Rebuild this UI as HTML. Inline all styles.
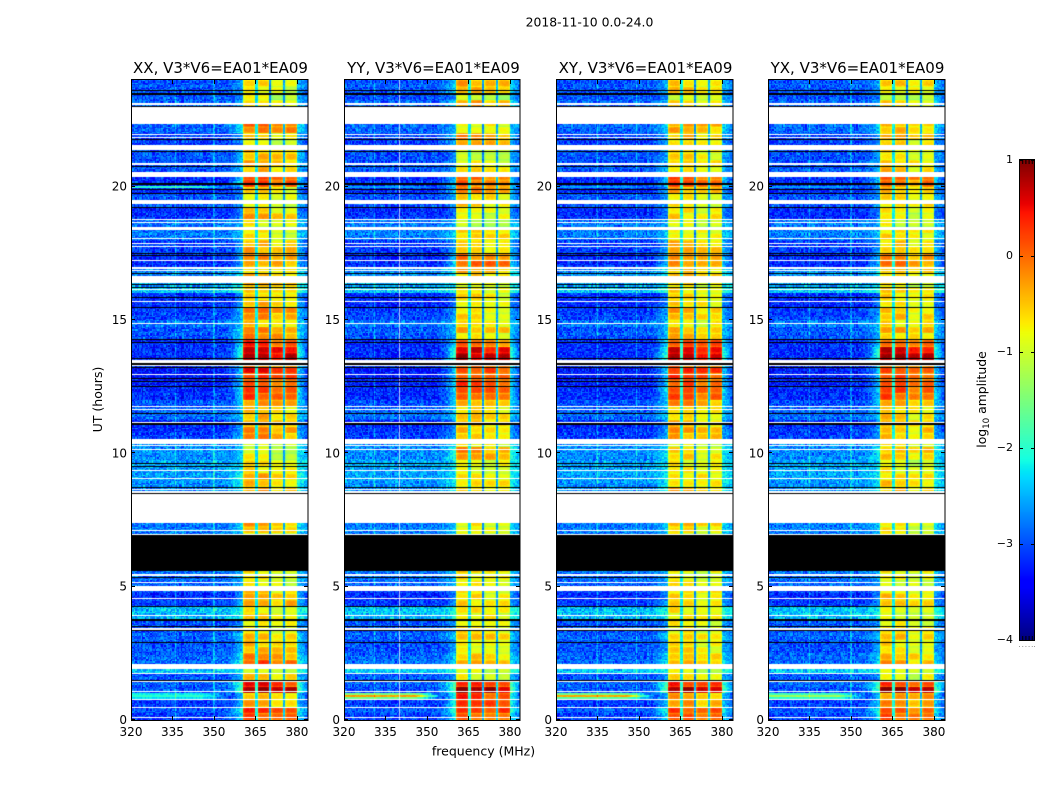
<!DOCTYPE html>
<html lang="en">
<head>
<meta charset="utf-8">
<title>2018-11-10 dynamic spectra</title>
<style>
html,body{margin:0;padding:0;background:#fff;width:1050px;height:800px;overflow:hidden}
#figure{position:relative;width:1050px;height:800px}
canvas{position:absolute;display:block}
svg{position:absolute;left:0;top:0}
text{font-family:"DejaVu Sans","Liberation Sans",sans-serif;fill:#000}
</style>
</head>
<body>
<div id="figure">
<svg id="overlay" width="1050" height="800" viewBox="0 0 1050 800">
  <text x="589.5" y="26.5" font-size="12.4" text-anchor="middle">2018-11-10 0.0-24.0</text>
  <text x="483.5" y="755.5" font-size="12.5" text-anchor="middle">frequency (MHz)</text>
  <text transform="translate(102 399.5) rotate(-90)" font-size="12.5" text-anchor="middle">UT (hours)</text>
  <text transform="translate(986 399.5) rotate(-90)" font-size="12.4" text-anchor="middle">log<tspan font-size="8.7" dy="3">10</tspan><tspan dy="-3"> amplitude</tspan></text>
</svg>
</div>
<script>
// ---- chart data ----
const panelTitles = ["XX, V3*V6=EA01*EA09", "YY, V3*V6=EA01*EA09", "XY, V3*V6=EA01*EA09", "YX, V3*V6=EA01*EA09"];
const freqTicks = [320, 335, 350, 365, 380];
const utTicks = [0, 5, 10, 15, 20];
const colorTicks = [1, 0, -1, -2, -3, -4];
const colorMinorTicks = [0, 1, 2, 3, 4, 5];
const freqRange = [320, 384];
const utRange = [0, 24];
const colorRange = [-4, 1];
const rowHours = 0.25;

// log10 amplitude of the frequency blocks, one value per quarter hour from UT 0
const blockAmpXX = [
 .1,.15,-.35,-.4,.85,.35,-.55,-.9,.1,-.2,-.45,-.5,
 -.35,-.75,-.8,-.7,-.7,-.3,-.4,-.6,-.8,-.7,-.7,-.7,
 -.7,-.7,-.7,-.7,-.6,-.4,-.6,-.6,-.6,-.4,-.4,-.45,
 -.3,-.7,-.8,-.8,-.85,-.9,-.3,-.25,-.3,-.45,-.55,-.3,
 .15,.3,.05,.2,.35,.1,.8,.6,.2,-.15,-.15,-.6,
 -.25,-.2,-.4,-.5,-.5,-.5,-.5,-.55,-.3,-.25,-.4,-.5,
 -.7,-.7,-.8,-.45,-.6,-.7,-.8,-.7,.15,.2,-.5,-.4,
 -.45,-.5,-.8,-.6,-.15,-.1,-.7,-.7,-.7,-1,-.8,-.6];
const blockAmpYY = [
 .1,.3,.25,.2,.9,.35,-.9,-.95,-.5,-.5,-.7,-.7,
 -.55,-.7,-.7,-.7,-.7,-.65,-.65,-.65,-.7,-.7,-.7,-.7,
 -.7,-.7,-.7,-.7,-.75,-.75,-.7,-.7,-.7,-.65,-.65,-.65,
 -.8,-.8,-.75,-.3,-.3,-.75,-.55,-.55,-.5,-.6,-.6,-.3,
 .05,.05,.15,.15,.2,.1,.75,.6,.05,-.7,-.4,-.8,
 -.6,-.6,-.75,-.7,-.8,-.8,-.6,-.4,0,-.15,-.5,-.6,
 -.6,-.7,-1,-.8,-.8,-.6,-.6,-.1,-.05,-.05,-.75,-.75,
 -.9,-.9,-.45,-.3,-.7,-.7,-.7,-.35,-.35,-1,-.35,-.35];
const blockAmpXY = [
 .05,.1,-.3,-.3,.85,.3,-.8,-.9,-.3,-.5,-.7,-.7,
 -.5,-.75,-.8,-.75,-.75,-.5,-.6,-.65,-.8,-.75,-.7,-.7,
 -.7,-.7,-.7,-.7,-.7,-.55,-.7,-.7,-.7,-.5,-.5,-.55,
 -.6,-.75,-.8,-.6,-.6,-.85,-.4,-.4,-.4,-.55,-.6,-.3,
 .1,.2,.1,.2,.3,.1,.8,.6,.15,-.5,-.35,-.7,
 -.5,-.45,-.6,-.6,-.7,-.7,-.55,-.5,-.15,-.2,-.45,-.55,
 -.65,-.7,-.9,-.65,-.7,-.65,-.7,-.4,.05,.1,-.6,-.55,
 -.7,-.7,-.6,-.5,-.4,-.3,-.7,-.6,-.6,-1,-.6,-.5];
const blockAmpYX = [
 .05,.15,-.2,-.3,.8,.3,-.8,-.9,-.4,-.45,-.7,-.7,
 -.5,-.75,-.8,-.8,-.8,-.6,-.6,-.7,-.85,-.8,-.75,-.75,
 -.75,-.75,-.75,-.75,-.75,-.6,-.7,-.7,-.7,-.55,-.55,-.55,
 -.65,-.8,-.8,-.5,-.5,-.85,-.45,-.45,-.45,-.6,-.6,-.35,
 .05,.15,0,.15,.25,.05,.75,.55,.1,-.55,-.35,-.7,
 -.5,-.5,-.65,-.65,-.7,-.75,-.55,-.5,-.2,-.25,-.5,-.6,
 -.65,-.7,-.9,-.7,-.7,-.65,-.75,-.4,0,.05,-.6,-.55,
 -.7,-.7,-.65,-.5,-.45,-.35,-.7,-.65,-.7,-1,-.7,-.55];

// log10 amplitude of the off-band background, quarter-hour rows from UT 0
const backgroundAmp = [
 -3.1,-3,-3.1,-3.1,-3,-2.9,-3,-2.4,-2.9,-2.9,-3,-3,
 -2.9,-3,-3,-2.5,-2.45,-3.1,-3.2,-3.1,-2.9,-2.9,-2.8,-2.8,
 -2.8,-2.8,-2.8,-2.8,-2.8,-2.8,-2.8,-2.8,-2.8,-2.7,-2.7,-2.7,
 -2.6,-2.6,-2.6,-2.7,-2.7,-2.7,-3.1,-3.2,-3.2,-2.9,-2.9,-3,
 -3.2,-3.2,-3.3,-3.3,-3.3,-3.2,-3.2,-3.2,-3.2,-3,-3,-2.8,
 -3.1,-3.1,-3.2,-3.2,-2.4,-2.6,-2.7,-2.7,-3.2,-3.2,-3.1,-3.1,
 -2.8,-2.8,-2.8,-3.2,-3.2,-3,-3,-3.2,-3.2,-3.2,-3,-3,
 -3,-3,-3.1,-3.1,-2.9,-2.9,-2.9,-2.9,-2.9,-3,-3,-3];

// per-panel level offsets for the four blocks (MHz edges below)
const blockStartMHz = [360.6, 365.8, 370.8, 375.8];
const blockEndMHz = [365.0, 370.0, 375.0, 380.1];
const blockOffsetXX = [.1, .08, -.12, -.1];
const blockOffsetYY = [.08, .05, -.05, -.1];
const blockOffsetXY = [.1, .05, -.12, -.08];
const blockOffsetYX = [.1, .05, -.15, -.05];
const gapLevelMHz = [-2.2, -2.7, -2.5];

// flagged time ranges (hours): white = no data, black = zero amplitude
const whiteGapStart = [23.08,22.35,21.94,21.84,21.37,20.83,20.36,19.35,18.75,18.64,18.37,18.04,17.85,17.74,17.21,16.93,16.84,16.37,16.12,15.67,14.85,13.39,13.27,12.94,11.74,11.64,11.14,10.35,10.27,10.14,9.36,9.02,8.62,8.53,7.40,7.10,6.95,5.40,5.12,4.85,4.52,3.90,3.39,1.91,1.72,1.42,1.05,0.75,0.45,0.07];
const whiteGapEnd = [23.15,22.97,21.99,21.88,21.56,20.87,20.55,19.50,18.80,18.67,18.49,18.07,17.89,17.77,17.25,16.97,16.87,16.65,16.16,15.71,14.88,13.50,13.31,12.97,11.77,11.67,11.17,10.54,10.31,10.18,9.39,9.06,8.66,8.57,8.47,7.14,6.99,5.47,5.17,5.02,4.56,3.94,3.45,2.10,1.76,1.46,1.09,0.79,0.49,0.11];
const blackGapStart = [23.60,23.44,22.97,21.75,21.30,20.74,20.08,19.87,19.72,19.20,17.47,17.40,16.74,16.31,16.22,15.82,15.47,14.25,14.14,13.54,13.33,13.22,12.79,12.67,12.49,11.47,11.08,9.60,9.49,8.70,8.46,5.57,5.34,4.22,3.73,3.49,3.34,2.92,1.46];
const blackGapEnd = [23.64,23.51,23.02,21.79,21.33,20.79,20.12,19.91,19.76,19.24,17.51,17.44,16.78,16.35,16.25,15.86,15.50,14.29,14.17,13.57,13.37,13.25,12.82,12.71,12.52,11.51,11.12,9.64,9.52,8.74,8.50,6.94,5.38,4.26,3.77,3.52,3.37,2.92,1.50];

// narrow interference: rows (hours) with per-panel log10 level, and channels (MHz)
const rfiRowUT = [0.90, 0.97, 0.83, 20.0];
const rfiRowXX = [-2.0, -2.2, -2.3, -2.0];
const rfiRowYY = [-0.3, -1.5, -1.6, -2.6];
const rfiRowXY = [-0.35, -1.6, -1.7, -2.6];
const rfiRowYX = [-1.3, -1.9, -2.0, -2.6];
const rfiChanXX = [336, 350];
const rfiChanYY = [331];
const rfiChanXY = [335, 349];
const rfiChanYX = [335, 350];
const whiteChanYY = [340];

// fine cell-to-cell speckle texture (log10 offsets), repeated over the grid
const speckleTexture = [.22,-.31,.08,.35,-.12,-.27,.16,-.05,.29,-.38,.11,.02,-.2,.33,-.09,.24,-.33,.05,.18,-.16,.38,-.25,.01,.13,-.36,.27,-.07,.2,-.18,.31,-.29,.09,-.02,.26,-.23,.15,-.11];

// ---- layout ----
const panelLeft = [131, 344, 556, 768];
const panelCanvasWidth = [177, 176, 177, 177];
const panelWidth = 177;
const panelTop = 80;
const panelHeight = 640;
const colorLeft = 1019, colorWidth = 16, colorTop = 160, colorHeight = 480;
const SVGNS = "http://www.w3.org/2000/svg";
const overlay = document.getElementById("overlay");
const figure = document.getElementById("figure");

function xScale(f){ return (f - freqRange[0]) / (freqRange[1] - freqRange[0]) * panelWidth; }
function yScale(u){ return panelHeight - (u - utRange[0]) / (utRange[1] - utRange[0]) * panelHeight; }
function cScale(v){ return colorTop + (colorRange[1] - v) / (colorRange[1] - colorRange[0]) * colorHeight; }
function clamp(x,a,b){ return Math.max(a, Math.min(b, x)); }

const JET_R = [[0,0],[.35,0],[.66,1],[.89,1],[1,.5]];
const JET_G = [[0,0],[.125,0],[.375,1],[.64,1],[.91,0],[1,0]];
const JET_B = [[0,.5],[.11,1],[.34,1],[.65,0],[1,0]];
function lerpTable(tb,t){
  for(let i=1;i<tb.length;i++){
    if(t<=tb[i][0]) return tb[i-1][1]+(tb[i][1]-tb[i-1][1])*(t-tb[i-1][0])/(tb[i][0]-tb[i-1][0]);
  }
  return tb[tb.length-1][1];
}
function jet(v){
  const t = clamp((v-colorRange[0])/(colorRange[1]-colorRange[0]),0,1);
  return [lerpTable(JET_R,t)*255, lerpTable(JET_G,t)*255, lerpTable(JET_B,t)*255];
}

function cellValue(f,u,amps,offsets,rfiRows,rfiChans,panelIndex){
  const row = clamp(Math.floor(u/rowHours),0,amps.length-1);
  const amp = amps[row];
  const bg = backgroundAmp[row];
  const chan = Math.floor(f*2), tim = Math.floor(u*20);
  const n = speckleTexture.length;
  const sp = speckleTexture[(chan*chan*3+tim*tim*5+chan*tim+panelIndex*7)%n]
           + .5*speckleTexture[(chan*11+tim*tim*13)%n];
  for(let i=0;i<blockStartMHz.length;i++){
    if(f>=blockStartMHz[i] && f<=blockEndMHz[i]){
      const t = 2*(f-blockStartMHz[i])/(blockEndMHz[i]-blockStartMHz[i])-1;
      const r = 2*(u/rowHours-row)-1;
      const patch = .55*speckleTexture[(row*3+i*5+panelIndex*11)%n];
      return amp+offsets[i]+patch-.4*Math.pow(Math.abs(t),6)-.3*Math.pow(Math.abs(r),4)+sp*.15;
    }
  }
  if(f>blockStartMHz[0] && f<blockEndMHz[3]){
    let g = gapLevelMHz[0];
    if(f>=blockStartMHz[1]) g = gapLevelMHz[1];
    if(f>=blockStartMHz[2]) g = gapLevelMHz[2];
    return g+.2*(amp+.5)+sp*.35;
  }
  let v;
  if(f<=blockStartMHz[0]){
    const s = clamp((f-352)/8.6,0,1);
    v = bg+s*s*Math.max(.3,.45+.7*(amp+.7))+sp*(1-.4*s);
  } else {
    const s = clamp((384-f)/4,0,1);
    v = bg+.15+s*(.3+.6*Math.max(0,amp+.7))+sp*.7;
  }
  for(let i=0;i<rfiRowUT.length;i++){
    if(Math.abs(u-rfiRowUT[i])<.035 && f<=blockStartMHz[0]){
      const fade = clamp((356-f)/10,0,1);
      v = Math.max(v, (rfiRows[i]+sp*.3)*fade+v*(1-fade));
    }
  }
  for(let i=0;i<rfiChans.length;i++){
    if(Math.abs(f-rfiChans[i])<.22) v = v+.45;
  }
  return v;
}

function drawHeatmap(canvas,amps,offsets,rfiRows,rfiChans,whiteChans,panelIndex){
  const ctx = canvas.getContext("2d");
  const w = canvas.width;
  const img = ctx.createImageData(w,panelHeight);
  for(let y=0;y<panelHeight;y++){
    const u = utRange[0]+(panelHeight-y-.5)/panelHeight*(utRange[1]-utRange[0]);
    for(let x=0;x<w;x++){
      const f = freqRange[0]+(x+.5)/panelWidth*(freqRange[1]-freqRange[0]);
      const c = jet(cellValue(f,u,amps,offsets,rfiRows,rfiChans,panelIndex));
      const k = (y*w+x)*4;
      img.data[k]=c[0]; img.data[k+1]=c[1]; img.data[k+2]=c[2]; img.data[k+3]=255;
    }
  }
  ctx.putImageData(img,0,0);
  ctx.fillStyle="rgba(255,255,255,.7)";
  whiteChans.forEach(function(fc){ ctx.fillRect(Math.round(xScale(fc)),0,1,panelHeight); });
  ctx.fillStyle="#fff";
  whiteGapStart.forEach(function(s,i){
    const y0=Math.round(yScale(whiteGapEnd[i])), y1=Math.round(yScale(s));
    ctx.fillRect(0,y0,w,Math.max(1,y1-y0));
  });
  ctx.fillStyle="#000";
  blackGapStart.forEach(function(s,i){
    const y0=Math.round(yScale(blackGapEnd[i])), y1=Math.round(yScale(s));
    ctx.fillRect(0,y0,w,Math.max(1,y1-y0));
  });
}

function svgLine(x1,y1,x2,y2,stroke,width){
  const l = document.createElementNS(SVGNS,"line");
  l.setAttribute("x1",x1); l.setAttribute("y1",y1);
  l.setAttribute("x2",x2); l.setAttribute("y2",y2);
  l.setAttribute("stroke",stroke); l.setAttribute("stroke-width",width);
  overlay.appendChild(l);
  return l;
}
function svgText(x,y,str,size,anchor){
  const t = document.createElementNS(SVGNS,"text");
  t.setAttribute("x",x); t.setAttribute("y",y);
  t.setAttribute("font-size",size); t.setAttribute("text-anchor",anchor);
  t.textContent = str;
  overlay.appendChild(t);
  return t;
}
function tickLabel(v){ return v<0 ? "\u2212"+Math.abs(v) : String(v); }

const panelKeys = ["xx","yy","xy","yx"];
const panelAmps = [blockAmpXX,blockAmpYY,blockAmpXY,blockAmpYX];
const panelOffsets = [blockOffsetXX,blockOffsetYY,blockOffsetXY,blockOffsetYX];
const panelRfiRows = [rfiRowXX,rfiRowYY,rfiRowXY,rfiRowYX];
const panelRfiChans = [rfiChanXX,rfiChanYY,rfiChanXY,rfiChanYX];
const panelWhiteChans = [[],whiteChanYY,[],[]];

panelTitles.forEach(function(title,p){
  const left = panelLeft[p];
  const cv = document.createElement("canvas");
  
  
  cv.width = panelCanvasWidth[p]; cv.height = panelHeight;
  cv.style.left = left+"px"; cv.style.top = panelTop+"px";
  figure.insertBefore(cv,overlay);
  drawHeatmap(cv,panelAmps[p],panelOffsets[p],panelRfiRows[p],panelRfiChans[p],panelWhiteChans[p],p);

  const frame = document.createElementNS(SVGNS,"rect");
  
  
  frame.setAttribute("x",left+.5); frame.setAttribute("y",panelTop-.5);
  frame.setAttribute("width",panelCanvasWidth[p]-.5); frame.setAttribute("height",panelHeight+1);
  frame.setAttribute("fill","none"); frame.setAttribute("stroke","#000"); frame.setAttribute("stroke-width","1");
  overlay.appendChild(frame);

  const ttl = svgText(left+panelWidth/2+1,73,title,15,"middle");
  
  

  freqTicks.forEach(function(f){
    const x = Math.round(left+xScale(f))+.5;
    const tb = svgLine(x,panelTop+panelHeight,x,panelTop+panelHeight-4,"#000",1);
    
    
    const tt = svgLine(x,panelTop,x,panelTop+4,"#000",1);
    
    
    const lb = svgText(left+xScale(f),736,String(f),12,"middle");
    
    
  });
  utTicks.forEach(function(u){
    const y = Math.round(panelTop+yScale(u))-.5;
    const tl = svgLine(left,y,left+4,y,"#000",1);
    
    
    const tr = svgLine(left+panelCanvasWidth[p],y,left+panelCanvasWidth[p]-4,y,"#000",1);
    
    
    const lb = svgText(left-4,panelTop+yScale(u)+4,String(u),12,"end");
    
    
  });
});

// ---- colorbar ----
const barCanvas = document.createElement("canvas");


barCanvas.width = colorWidth; barCanvas.height = colorHeight;
barCanvas.style.left = colorLeft+"px"; barCanvas.style.top = colorTop+"px";
figure.insertBefore(barCanvas,overlay);
(function(){
  const ctx = barCanvas.getContext("2d");
  for(let y=0;y<colorHeight;y++){
    const v = colorRange[1]-(y+.5)/colorHeight*(colorRange[1]-colorRange[0]);
    const c = jet(v);
    ctx.fillStyle = "rgb("+Math.round(c[0])+","+Math.round(c[1])+","+Math.round(c[2])+")";
    ctx.fillRect(0,y,colorWidth,1);
  }
})();
const barFrame = document.createElementNS(SVGNS,"rect");


barFrame.setAttribute("x",colorLeft+.5); barFrame.setAttribute("y",colorTop-.5);
barFrame.setAttribute("width",colorWidth-1); barFrame.setAttribute("height",colorHeight+1);
barFrame.setAttribute("fill","none"); barFrame.setAttribute("stroke","#000"); barFrame.setAttribute("stroke-width","1");
overlay.appendChild(barFrame);
colorTicks.forEach(function(v){
  const y = Math.round(cScale(v))+.5;
  const a = svgLine(colorLeft,y,colorLeft+4,y,"#000",1);
  
  
  const b = svgLine(colorLeft+colorWidth,y,colorLeft+colorWidth-4,y,"#000",1);
  
  
  const lb = svgText(colorLeft-6,cScale(v)+3,tickLabel(v),11,"end");
  
  
});
colorMinorTicks.forEach(function(i){
  const x = colorLeft+i*colorWidth/5+(i===5?-.5:.5);
  const t = svgLine(x,colorTop,x,colorTop+4,"#000",1);
  
  
  const u = svgLine(x,colorTop+colorHeight,x,colorTop+colorHeight-4,"#000",1);
  
  
  const d = svgLine(x-.5,646.5,x+.5,646.5,"#999",1);
  
  
});
</script>
</body>
</html>
